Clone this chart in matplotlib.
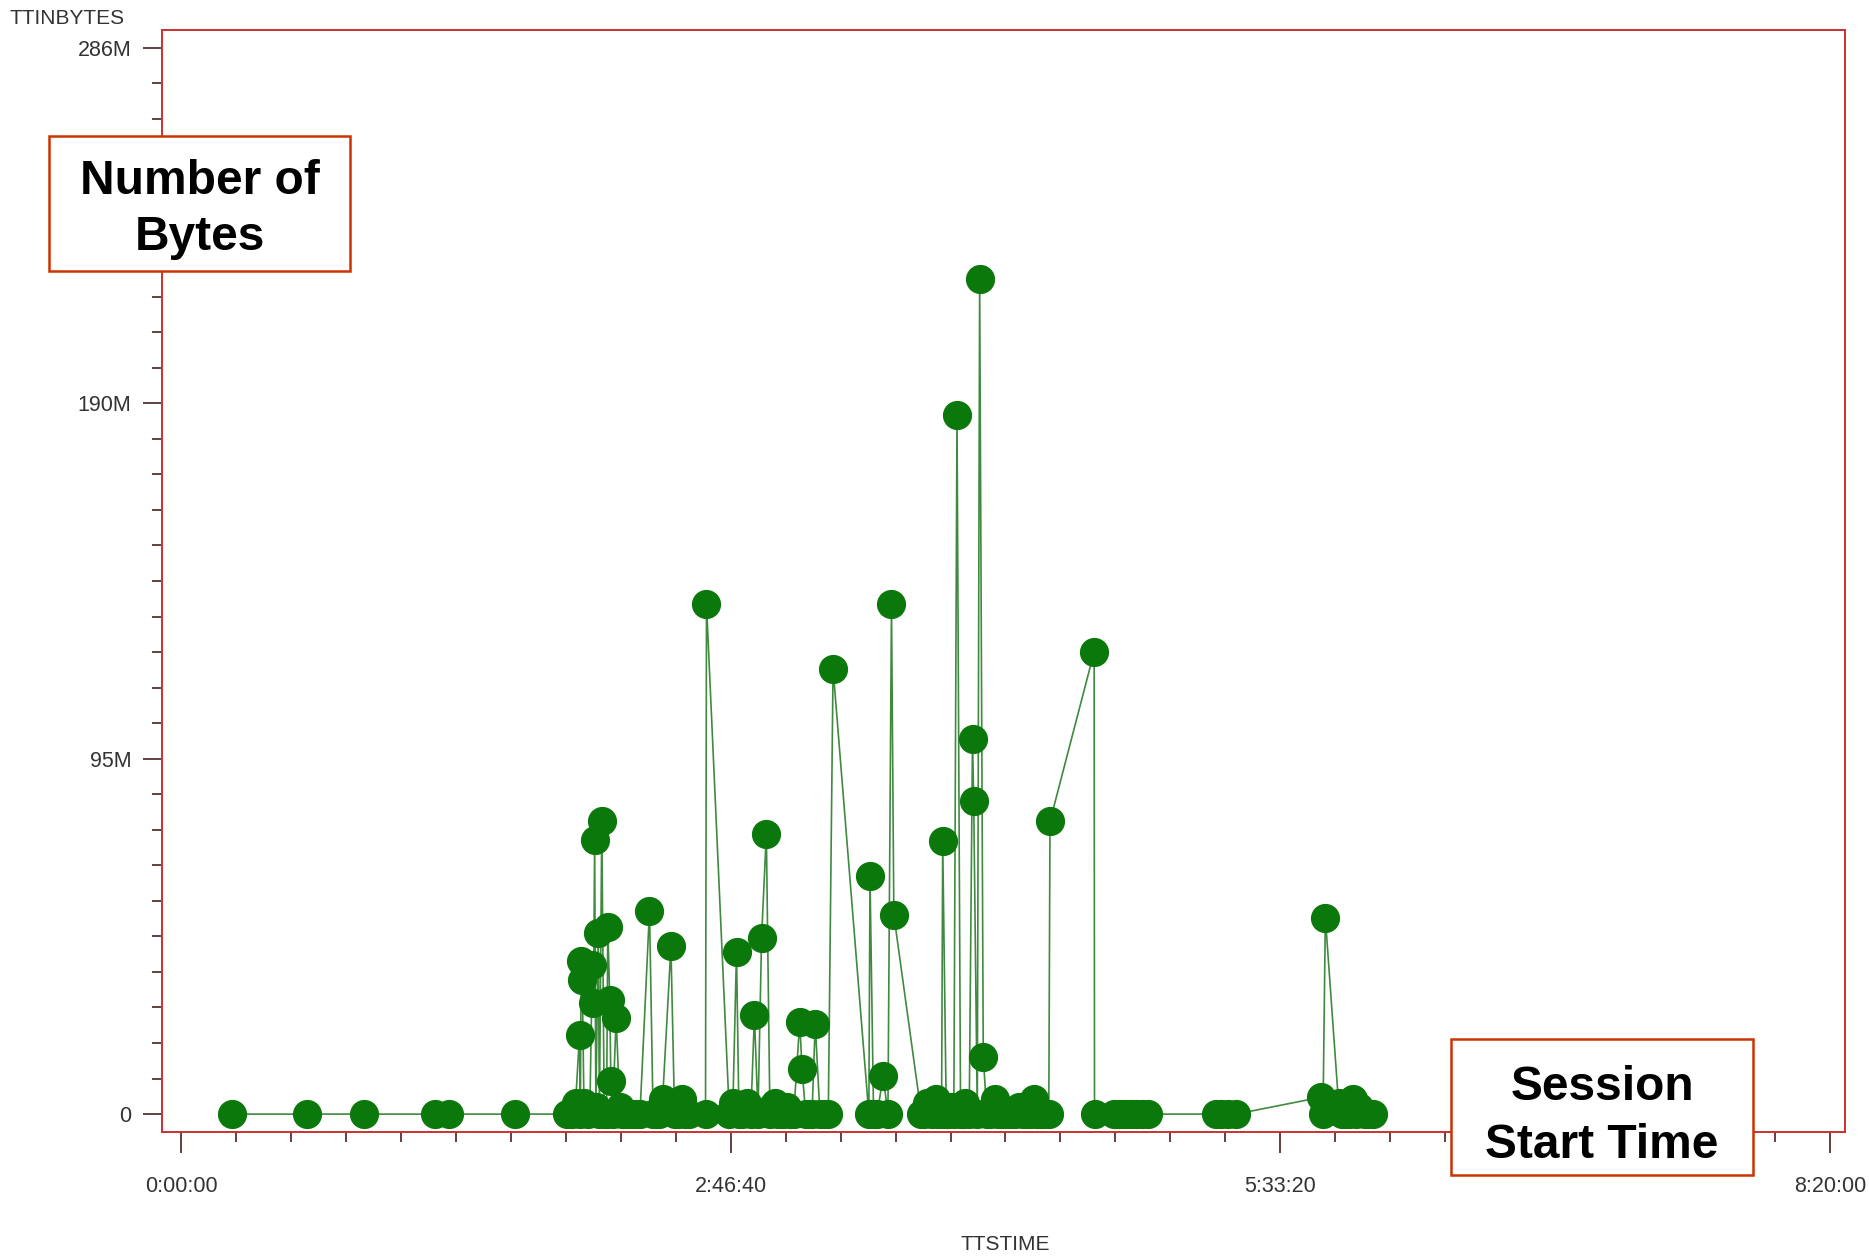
import matplotlib
matplotlib.use('Agg')
import matplotlib.pyplot as plt
from matplotlib.patches import Rectangle
from matplotlib.ticker import FixedLocator, MultipleLocator

plt.rcParams['font.family'] = ['Liberation Sans', 'DejaVu Sans']

# session start time (seconds from 0:00:00) and bytes (millions), in time order
ttstime = [933, 2290, 3331, 4619, 4880, 6072,
           7027, 7113, 7178, 7250, 7265, 7280, 7300, 7330, 7395, 7439, 7482, 7504,
           7525, 7547, 7590, 7612, 7655, 7699, 7742, 7764, 7800, 7820, 7851, 7916,
           7981, 8024, 8089, 8154, 8198, 8285, 8350, 8523, 8588, 8640, 8697, 8762,
           8913, 8979, 9040, 9109, 9170, 9239, 9542, 9560,
           9976, 10041, 10106, 10150, 10200, 10236, 10300, 10367, 10432, 10497,
           10562, 10649, 10714, 10760, 10801, 10860, 10909, 10960, 11017, 11080,
           11147, 11256, 11299, 11364, 11420, 11480, 11538, 11624, 11700, 11776,
           11863, 12514, 12535, 12600, 12665, 12774, 12861, 12926, 12969,
           13468, 13520, 13576, 13663, 13728, 13780, 13837, 13858, 13923, 13960,
           14010, 14060, 14118, 14183, 14230, 14270, 14340, 14400, 14422, 14487,
           14530, 14596, 14661, 14720, 14770, 14812, 14870, 14921, 14980, 15040,
           15094, 15170, 15246, 15320, 15398, 15460, 15528, 15580, 15637, 15700,
           15788, 15810, 16613, 16620,
           16981, 17060, 17133, 17220, 17306, 17400, 17480, 17588,
           18825, 18930, 19041, 19193,
           20733, 20777, 20820, 21060, 21120, 21170, 21250, 21320, 21380, 21430,
           21536, 21600, 21687]
ttinbytes_m = [0, 0, 0, 0, 0, 0,
               0, 0, 3, 21.3, 0, 41.0, 36.0, 3, 0, 2, 40.0, 29.8,
               73.6, 2, 48.6, 0, 78.5, 0, 0, 50.3, 30.7, 8.8, 0, 25.8,
               2, 0, 0, 0, 0, 0, 0, 54.6, 0, 0, 0, 4,
               45.0, 0, 0, 4, 0, 0, 0, 136.8,
               0, 3, 43.6, 0, 0, 2, 3, 0, 26.5, 0,
               47.3, 75.1, 0, 2, 3, 0, 0, 0, 2, 0,
               0, 24.6, 12.1, 0, 0, 0, 24.3, 0, 0, 0,
               119.5, 0, 63.9, 0, 0, 10.2, 0, 136.8, 53.4,
               0, 0, 3, 0, 4, 0, 0, 73.2, 0, 0,
               2, 0, 187.6, 0, 0, 3, 0, 100.7, 84.1, 0,
               224.0, 15.3, 0, 0, 2, 4, 0, 0, 0, 0,
               0, 0, 2, 0, 0, 0, 4, 0, 0, 0,
               0, 78.5, 124.0, 0,
               0, 0, 0, 0, 0, 0, 0, 0,
               0, 0, 0, 0,
               4.5, 0, 52.7, 3, 0, 0, 0, 4, 0, 2,
               0, 0, 0]

y_ticks = [0, 286 / 3, 2 * 286 / 3, 286]
y_labels = ["0", "95M", "190M", "286M"]
x_ticks = [0, 10000, 20000, 30000]
x_labels = ["0:00:00", "2:46:40", "5:33:20", "8:20:00"]

W, H = 1869, 1257
fig = plt.figure(figsize=(W / 100, H / 100), dpi=100)
ax = fig.add_axes([162 / W, 1 - 1132 / H, (1845 - 162) / W, (1132 - 30) / H])

ax.plot(ttstime, ttinbytes_m, color='#3f8a3f', lw=1.2, zorder=2)
ax.plot(ttstime, ttinbytes_m, 'o', color='#0b780b', ms=20, mec='#0b780b', zorder=3)

ax.set_xlim(-347, 30275)
ax.set_ylim(-4.8, 290.8)

ax.yaxis.set_major_locator(FixedLocator(y_ticks))
ax.set_yticklabels(y_labels)
ax.yaxis.set_minor_locator(FixedLocator([286 / 30 * i for i in range(31)]))
ax.xaxis.set_major_locator(FixedLocator(x_ticks))
ax.set_xticklabels(x_labels)
ax.xaxis.set_minor_locator(MultipleLocator(1000))

for s in ax.spines.values():
    s.set_color('#c83232')
    s.set_linewidth(1.4)

ax.tick_params(axis='both', which='both', direction='out', colors='#4a2020', width=1.2,
               labelcolor='#333333', labelsize=15.5)
ax.tick_params(axis='y', which='major', length=14, pad=8)
ax.tick_params(axis='y', which='minor', length=7)
ax.tick_params(axis='x', which='major', length=15, pad=17)
ax.tick_params(axis='x', which='minor', length=7)

fig.text(67 / W, 1 - 19 / H, "TTINBYTES", ha='center', va='center', fontsize=15, color='#333333')
fig.text(1005 / W, 1 - 1244 / H, "TTSTIME", ha='center', va='center', fontsize=15, color='#333333')

# annotation boxes
def note(x0, y0, x1, y1, lines, ys):
    fig.add_artist(Rectangle((x0 / W, 1 - y1 / H), (x1 - x0) / W, (y1 - y0) / H,
                             transform=fig.transFigure, facecolor='white',
                             edgecolor='#cc3300', lw=1.8, zorder=5))
    for txt, yy in zip(lines, ys):
        fig.text((x0 + x1) / 2 / W, 1 - yy / H, txt, ha='center', va='center',
                 fontsize=34.5, fontweight='bold', color='black', zorder=6)

note(49, 136, 350, 271, ["Number of", "Bytes"], [182, 238])
note(1451, 1039, 1753, 1175, ["Session", "Start Time"], [1087, 1145])

fig.savefig("out.png", dpi=100)
